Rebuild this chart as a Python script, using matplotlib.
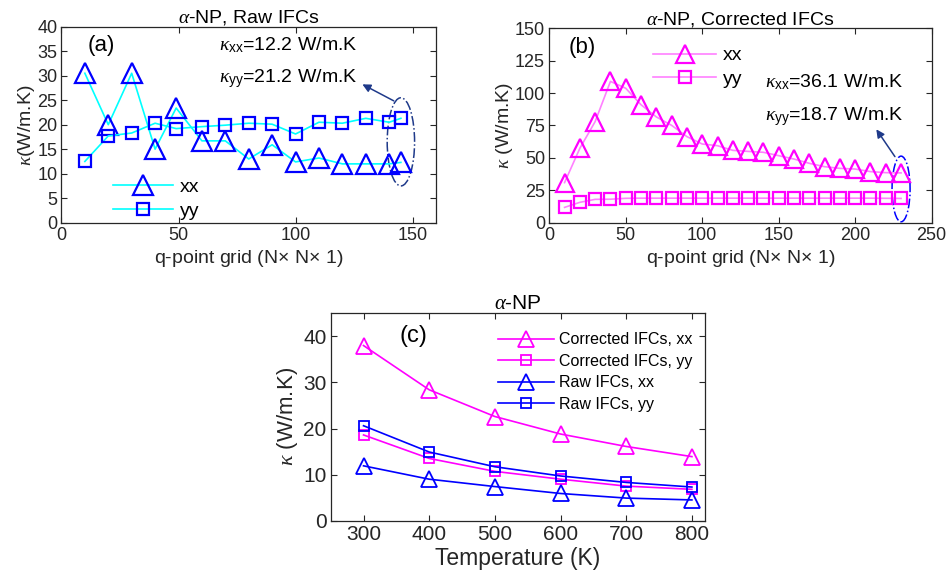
import matplotlib
matplotlib.use('Agg')
import matplotlib.pyplot as plt
from matplotlib.patches import Ellipse

# ---------------------------------------------------------
# Data
# ---------------------------------------------------------

# (a) raw IFCs vs q-point grid
q_raw = [10, 20, 30, 40, 49, 60, 70, 80, 90, 100, 110, 120, 130, 140, 145]
raw_xx = [30.5, 20.0, 30.5, 15.0, 23.4, 16.7, 16.7, 13.0, 15.9, 12.4, 13.2, 12.0, 12.0, 12.0, 12.3]
raw_yy = [12.5, 17.7, 18.3, 20.3, 19.2, 19.6, 19.9, 20.3, 20.1, 18.1, 20.5, 20.3, 21.3, 20.5, 21.3]

# (b) corrected IFCs vs q-point grid
q_corr = [10, 20, 30, 40, 50, 60, 70, 80, 90, 100, 110, 120, 130, 140, 150,
          160, 170, 180, 190, 200, 210, 220, 230]
corr_xx = [30.9, 57.4, 78.0, 109.0, 103.7, 91.0, 81.6, 75.1, 66.4, 60.7, 59.4, 55.8,
           55.0, 54.3, 51.7, 49.1, 45.8, 43.2, 41.9, 41.4, 39.4, 38.6, 38.4]
corr_yy = [11.8, 15.7, 18.0, 18.1, 18.8, 18.9, 18.9, 18.9, 18.9, 18.9, 18.9, 18.9,
           18.9, 18.9, 18.9, 18.9, 18.9, 18.9, 18.9, 18.9, 18.9, 18.8, 18.7]

# (c) temperature dependence
temps = [300, 400, 500, 600, 700, 800]
t_corr_xx = [38.0, 28.4, 22.6, 18.8, 16.1, 13.9]
t_corr_yy = [18.6, 13.5, 10.7, 9.0, 7.5, 6.8]
t_raw_xx = [11.9, 9.0, 7.4, 5.9, 4.9, 4.5]
t_raw_yy = [20.6, 14.9, 11.7, 9.7, 8.3, 7.3]

# ---------------------------------------------------------
# Style
# ---------------------------------------------------------
plt.rcParams['font.family'] = ['Liberation Sans', 'DejaVu Sans']
plt.rcParams['mathtext.fontset'] = 'custom'
plt.rcParams['mathtext.rm'] = 'Liberation Sans'
plt.rcParams['mathtext.it'] = 'Liberation Serif:italic'
plt.rcParams['mathtext.bf'] = 'Liberation Sans:bold'

DARK = '#262626'
NAVY = '#1f3a8a'


def matlab_axes(ax, fs):
    ax.tick_params(direction='in', top=True, right=True, length=4, width=0.8,
                   labelsize=fs, colors=DARK, labelcolor=DARK, pad=3)
    for s in ax.spines.values():
        s.set_color(DARK)
        s.set_linewidth(0.9)


fig = plt.figure(figsize=(9.47, 5.88), dpi=100)

# ---------------------------------------------------------
# (a)
# ---------------------------------------------------------
ax1 = fig.add_axes([0.0649, 0.6213, 0.3955, 0.3333])
ax1.plot(q_raw, raw_xx, color='#00ffff', lw=1.2, marker='^', ms=14,
         mfc='none', mec='#0000ff', mew=1.6, label='xx')
ax1.plot(q_raw, raw_yy, color='#00ffff', lw=1.2, marker='s', ms=9,
         mfc='none', mec='#0000ff', mew=1.6, label='yy')
ax1.set_xlim(0, 160)
ax1.set_ylim(0, 40)
ax1.set_xticks([0, 50, 100, 150])
ax1.set_yticks(range(0, 41, 5))
matlab_axes(ax1, 13)
ax1.set_title(r'$\alpha$-NP, Raw IFCs', fontsize=14, color='black', pad=3)
ax1.set_xlabel(r'q-point grid (N$\times$ N$\times$ 1)', fontsize=14, color=DARK, labelpad=3)
ax1.set_ylabel(r'$\kappa$(W/m.K)', fontsize=14, color=DARK, labelpad=0)
ax1.text(0.107, 0.905, '(a)', transform=ax1.transAxes, fontsize=16, ha='center', va='center')
ax1.text(67.5, 36.3, r'$\kappa_{\mathrm{xx}}$=12.2 W/m.K', fontsize=14, va='center')
ax1.text(67.5, 29.5, r'$\kappa_{\mathrm{yy}}$=21.2 W/m.K', fontsize=14, va='center')
ax1.add_patch(Ellipse((q_raw[-1], 16.5), 11.7, 18.0, fill=False, ec=NAVY,
                      ls='-.', lw=1.1))
ax1.annotate('', xy=(127.5, 28.5), xytext=(q_raw[-1] - 2, 24.6),
             arrowprops=dict(arrowstyle='-|>', color=NAVY, lw=1.1, mutation_scale=12))
ax1.legend(loc='upper left', bbox_to_anchor=(0.10, 0.295), frameon=False, fontsize=14,
           handlelength=3.1, labelspacing=0.3, handletextpad=0.35, borderpad=0.2)

# ---------------------------------------------------------
# (b)
# ---------------------------------------------------------
ax2 = fig.add_axes([0.5800, 0.6213, 0.4038, 0.3306])
ax2.plot(q_corr, corr_xx, color='#ff80ff', lw=1.2, marker='^', ms=13,
         mfc='none', mec='#ff00ff', mew=1.6, label='xx')
ax2.plot(q_corr, corr_yy, color='#ff80ff', lw=1.2, marker='s', ms=8,
         mfc='none', mec='#ff00ff', mew=1.6, label='yy')
ax2.set_xlim(0, 250)
ax2.set_ylim(0, 150)
ax2.set_xticks(range(0, 251, 50))
ax2.set_yticks(range(0, 151, 25))
matlab_axes(ax2, 13)
ax2.set_title(r'$\alpha$-NP, Corrected IFCs', fontsize=14, color='black', pad=3)
ax2.set_xlabel(r'q-point grid (N$\times$ N$\times$ 1)', fontsize=14, color=DARK, labelpad=3)
ax2.set_ylabel(r'$\kappa$ (W/m.K)', fontsize=14, color=DARK, labelpad=0)
ax2.text(0.085, 0.9, '(b)', transform=ax2.transAxes, fontsize=16, ha='center', va='center')
ax2.text(141, 108.6, r'$\kappa_{\mathrm{xx}}$=36.1 W/m.K', fontsize=14, va='center')
ax2.text(141, 81.6, r'$\kappa_{\mathrm{yy}}$=18.7 W/m.K', fontsize=14, va='center')
ax2.add_patch(Ellipse((q_corr[-1], 26), 11.8, 50.7, fill=False, ec='#0000ff',
                      ls='-.', lw=1.1))
ax2.annotate('', xy=(212.8, 73.8), xytext=(227, 49.2),
             arrowprops=dict(arrowstyle='-|>', color=NAVY, lw=1.1, mutation_scale=12))
ax2.legend(loc='upper left', bbox_to_anchor=(0.237, 0.975), frameon=False, fontsize=14,
           handlelength=3.2, labelspacing=0.3, handletextpad=0.35, borderpad=0.2)

# ---------------------------------------------------------
# (c)
# ---------------------------------------------------------
ax3 = fig.add_axes([0.3492, 0.1145, 0.3953, 0.3527])
ax3.plot(temps, t_corr_xx, color='#ff00ff', lw=1.2, marker='^', ms=11.5,
         mfc='none', mec='#ff00ff', mew=1.3, label='Corrected IFCs, xx')
ax3.plot(temps, t_corr_yy, color='#ff00ff', lw=1.2, marker='s', ms=7,
         mfc='none', mec='#ff00ff', mew=1.3, label='Corrected IFCs, yy')
ax3.plot(temps, t_raw_xx, color='#0000ff', lw=1.2, marker='^', ms=11.5,
         mfc='none', mec='#0000ff', mew=1.3, label='Raw IFCs, xx')
ax3.plot(temps, t_raw_yy, color='#0000ff', lw=1.2, marker='s', ms=7,
         mfc='none', mec='#0000ff', mew=1.3, label='Raw IFCs, yy')
ax3.set_xlim(250, 820)
ax3.set_ylim(0, 45)
ax3.set_xticks(temps)
ax3.set_yticks(range(0, 41, 10))
matlab_axes(ax3, 15)
ax3.set_title(r'$\alpha$-NP', fontsize=15, color='black', pad=3)
ax3.set_xlabel('Temperature (K)', fontsize=16.5, color=DARK, labelpad=2)
ax3.set_ylabel(r'$\kappa$ (W/m.K)', fontsize=16, color=DARK, labelpad=2)
ax3.text(0.22, 0.89, '(c)', transform=ax3.transAxes, fontsize=17, ha='center', va='center')
ax3.legend(loc='upper right', bbox_to_anchor=(0.995, 0.962), frameon=False, fontsize=11.5,
           handlelength=3.5, labelspacing=0.4, handletextpad=0.3, borderpad=0.2)

fig.savefig('out.png', dpi=100)
